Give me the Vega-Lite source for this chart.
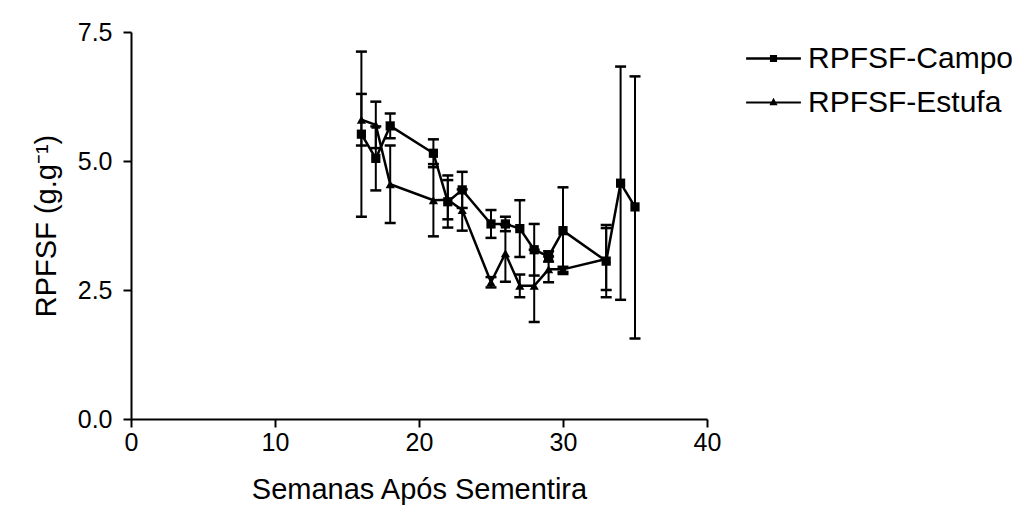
{
  "$schema": "https://vega.github.io/schema/vega-lite/v6.json",
  "width": 576,
  "height": 387,
  "autosize": {"type": "none"},
  "padding": {"left": 131, "top": 32, "right": 319, "bottom": 98},
  "background": "white",
  "config": {
    "font": "Liberation Sans",
    "view": {"stroke": null},
    "axis": {
      "grid": false,
      "labelFlush": false,
      "domainColor": "black",
      "domainWidth": 2,
      "tickColor": "black",
      "tickWidth": 2,
      "tickSize": 8,
      "labelColor": "black",
      "labelFont": "Liberation Sans",
      "labelFontSize": 25,
      "titleColor": "black",
      "titleFont": "Liberation Sans",
      "titleFontSize": 29,
      "titleFontWeight": "normal"
    }
  },
  "data": {
    "values": [
      {"week": 16, "series": "RPFSF-Campo", "mean": 5.52, "lo": 3.92, "hi": 7.12},
      {"week": 17, "series": "RPFSF-Campo", "mean": 5.05, "lo": 4.43, "hi": 5.67},
      {"week": 18, "series": "RPFSF-Campo", "mean": 5.68, "lo": 5.44, "hi": 5.92},
      {"week": 21, "series": "RPFSF-Campo", "mean": 5.15, "lo": 4.88, "hi": 5.42},
      {"week": 22, "series": "RPFSF-Campo", "mean": 4.21, "lo": 3.71, "hi": 4.72},
      {"week": 23, "series": "RPFSF-Campo", "mean": 4.44, "lo": 4.09, "hi": 4.79},
      {"week": 25, "series": "RPFSF-Campo", "mean": 3.78, "lo": 3.51, "hi": 4.05},
      {"week": 26, "series": "RPFSF-Campo", "mean": 3.78, "lo": 3.64, "hi": 3.92},
      {"week": 27, "series": "RPFSF-Campo", "mean": 3.69, "lo": 3.14, "hi": 4.24},
      {"week": 28, "series": "RPFSF-Campo", "mean": 3.28, "lo": 2.78, "hi": 3.78},
      {"week": 29, "series": "RPFSF-Campo", "mean": 3.15, "lo": 3.05, "hi": 3.25},
      {"week": 30, "series": "RPFSF-Campo", "mean": 3.65, "lo": 2.81, "hi": 4.49},
      {"week": 33, "series": "RPFSF-Campo", "mean": 3.06, "lo": 2.36, "hi": 3.76},
      {"week": 34, "series": "RPFSF-Campo", "mean": 4.57, "lo": 2.31, "hi": 6.83},
      {"week": 35, "series": "RPFSF-Campo", "mean": 4.11, "lo": 1.56, "hi": 6.64},
      {"week": 16, "series": "RPFSF-Estufa", "mean": 5.8, "lo": 5.3, "hi": 6.3},
      {"week": 17, "series": "RPFSF-Estufa", "mean": 5.7, "lo": 5.25, "hi": 6.15},
      {"week": 18, "series": "RPFSF-Estufa", "mean": 4.55, "lo": 3.8, "hi": 5.3},
      {"week": 21, "series": "RPFSF-Estufa", "mean": 4.24, "lo": 3.54, "hi": 4.94},
      {"week": 22, "series": "RPFSF-Estufa", "mean": 4.25, "lo": 3.87, "hi": 4.63},
      {"week": 23, "series": "RPFSF-Estufa", "mean": 4.05, "lo": 3.65, "hi": 4.45},
      {"week": 25, "series": "RPFSF-Estufa", "mean": 2.65, "lo": 2.55, "hi": 2.75},
      {"week": 26, "series": "RPFSF-Estufa", "mean": 3.21, "lo": 2.66, "hi": 3.76},
      {"week": 27, "series": "RPFSF-Estufa", "mean": 2.58, "lo": 2.36, "hi": 2.8},
      {"week": 28, "series": "RPFSF-Estufa", "mean": 2.58, "lo": 1.88, "hi": 3.28},
      {"week": 29, "series": "RPFSF-Estufa", "mean": 2.9, "lo": 2.65, "hi": 3.15},
      {"week": 30, "series": "RPFSF-Estufa", "mean": 2.9, "lo": 2.85, "hi": 2.95},
      {"week": 33, "series": "RPFSF-Estufa", "mean": 3.1, "lo": 2.5, "hi": 3.7}
    ]
  },
  "encoding": {
    "x": {
      "field": "week", "type": "quantitative",
      "scale": {"domain": [0, 40], "nice": false, "zero": false},
      "axis": {"values": [0, 10, 20, 30, 40], "title": "Semanas Após Sementira", "titlePadding": 20, "labelPadding": 3}
    }
  },
  "layer": [
    {
      "mark": {"type": "rule", "color": "black", "strokeWidth": 2},
      "encoding": {
        "y": {"field": "lo", "type": "quantitative", "scale": {"domain": [0, 7.5], "nice": false}},
        "y2": {"field": "hi"}
      }
    },
    {
      "mark": {"type": "tick", "orient": "horizontal", "color": "black", "size": 11, "thickness": 2.5, "opacity": 1},
      "encoding": {"y": {"field": "lo", "type": "quantitative"}}
    },
    {
      "mark": {"type": "tick", "orient": "horizontal", "color": "black", "size": 11, "thickness": 2.5, "opacity": 1},
      "encoding": {"y": {"field": "hi", "type": "quantitative"}}
    },
    {
      "mark": {"type": "line", "color": "black", "strokeWidth": 2.5},
      "encoding": {
        "y": {
          "field": "mean", "type": "quantitative",
          "axis": {"values": [0, 2.5, 5, 7.5], "format": ".1f", "title": "RPFSF (g.g⁻¹)", "titlePadding": 16, "labelPadding": 11}
        },
        "detail": {"field": "series"}
      }
    },
    {
      "mark": {"type": "point", "filled": true, "color": "black", "opacity": 1, "size": 85},
      "encoding": {
        "y": {"field": "mean", "type": "quantitative"},
        "shape": {
          "field": "series", "type": "nominal",
          "scale": {"domain": ["RPFSF-Campo", "RPFSF-Estufa"], "range": ["square", "triangle-up"]},
          "legend": null
        }
      }
    },
    {
      "mark": {"type": "point", "filled": true, "color": "black", "opacity": 0, "size": 3000},
      "encoding": {
        "y": {"field": "mean", "type": "quantitative"},
        "shape": {
          "field": "series", "type": "nominal",
          "scale": {
            "domain": ["RPFSF-Campo", "RPFSF-Estufa"],
            "range": ["M-1,-0.045H1V0.045H-1ZM-0.13,-0.13H0.13V0.13H-0.13Z", "M-1,-0.035H1V0.035H-1ZM0,-0.17L0.15,0.1H-0.15Z"]
          },
          "legend": {
            "title": null,
            "orient": "none",
            "legendX": 614,
            "legendY": -2,
            "symbolSize": 3000,
            "labelFont": "Liberation Sans",
            "labelFontSize": 30,
            "labelColor": "black",
            "labelOffset": 6,
            "labelLimit": 400,
            "rowPadding": -2,
            "encode": {
              "symbols": {
                "update": {
                  "fill": {"value": "black"},
                  "stroke": {"value": "transparent"},
                  "opacity": {"value": 1},
                  "fillOpacity": {"value": 1}
                }
              }
            }
          }
        }
      }
    }
  ],
  "resolve": {"scale": {"shape": "independent"}, "legend": {"shape": "independent"}}
}
